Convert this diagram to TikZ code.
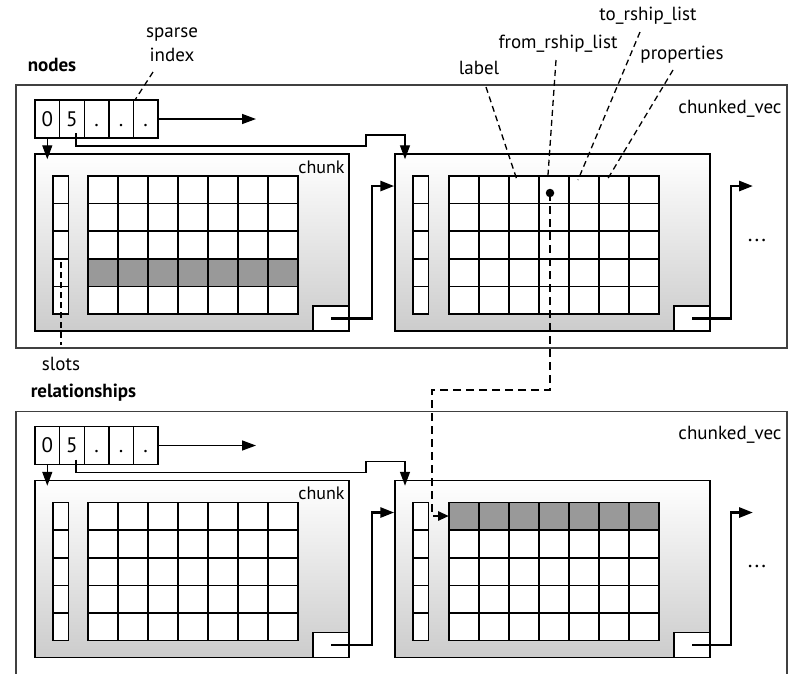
\documentclass[tikz,border=0pt]{standalone}
\usepackage{fontspec}
\setmainfont{PT Sans}
\usetikzlibrary{arrows.meta,calc}
\tikzset{
  lbl/.style={font=\fontsize{19}{22}\selectfont, inner sep=0pt, anchor=base},
  smalllbl/.style={font=\fontsize{18}{21}\selectfont, inner sep=0pt, anchor=base},
  ttl/.style={font=\bfseries\fontsize{19}{22}\selectfont, inner sep=0pt, anchor=base},
  panelbox/.style={draw=black!75, line width=1.4pt},
  chunkbox/.style={draw=black, line width=1.5pt, top color=white, bottom color=black!20,
    minimum width=314pt, minimum height=177pt, inner sep=0pt},
  cellbox/.style={draw=black, line width=1.6pt, fill=white},
  hicell/.style={draw=black, line width=1.6pt, fill=black!40},
  idxcell/.style={draw=black, line width=1.4pt, fill=white, minimum width=24.6pt,
    minimum height=38pt, inner sep=0pt, text height=14pt, text depth=0pt,
    font=\fontsize{21}{24}\selectfont},
  smallbox/.style={draw=black, line width=1.5pt, fill=white, minimum width=36pt,
    minimum height=25pt, inner sep=0pt},
  link/.style={line width=1.4pt, -{Triangle[length=14pt,width=10pt]}},
  thicklink/.style={line width=2.8pt, -{Triangle[length=14pt,width=10pt]}},
  leader/.style={line width=1.3pt, dash pattern=on 6pt off 4pt},
  ptr/.style={line width=2.8pt, dash pattern=on 8pt off 5pt, -{Triangle[length=11pt,width=9pt]}},
  dotnode/.style={circle, fill=black, inner sep=0pt, minimum size=8.5pt},
}
\newcommand\drawchunkgrid[4]{%
  \foreach \r in {0,...,4}{%
    \draw[cellbox] (#1,{#3+27.6*\r}) rectangle ++(15.5,27.6);
    \foreach \c in {0,...,6}{%
      \ifnum\r=#4\relax\def\cst{hicell}\else\def\cst{cellbox}\fi
      \draw[\cst] ({#2+30*\c},{#3+27.6*\r}) rectangle ++(30,27.6);
    }%
  }%
}
\newcommand\drawpanel[4]{%
\begin{scope}[yshift=-#2pt]
  \draw[panelbox] (16,85) rectangle (787,348);
  \node[lbl] (#1cv) at (730,113) {chunked\_vec};
  \foreach \k/\t in {0/0,1/5,2/.,3/.,4/.}
    \node[idxcell] (#1i\k) at ({47.3+24.6*\k},119) {\t};
  \coordinate (#1iend) at (256,119);
  \draw[link] (#1i4.east) -- (#1iend);
  \node[chunkbox] (#1cA) at (192,242.5) {};
  \node[chunkbox, minimum width=315pt] (#1cB) at (552.5,242.5) {};
  \node[smalllbl] (#1chl) at (321.5,173) {chunk};
  \drawchunkgrid{53}{88}{176}{#3}
  \drawchunkgrid{413}{449}{176}{#4}
  \node[smallbox] (#1sA) at (331,318.5) {};
  \node[smallbox] (#1sB) at (692,318.5) {};
  % index pointers
  \draw[link, shorten >=-6pt] (#1i0.south) -- (#1i0.south |- #1cA.north);
  \coordinate (#1f5) at (76,133);
  \coordinate (#1b1) at (366,146);
  \coordinate (#1b2) at (405,135);
  \draw[link, shorten >=-6pt] (#1f5) |- (#1b1) |- (#1b2) -- (#1b2 |- #1cB.north);
  % chunk chain
  \coordinate (#1jA) at (372,186);
  \draw[thicklink] (#1sA.center) -| (#1jA) -- (#1jA -| #1cB.west);
  \coordinate (#1jB) at (731,186);
  \coordinate (#1jBend) at (753,186);
  \draw[thicklink] (#1sB.center) -| (#1jB) -- (#1jBend);
  \node[lbl, font=\fontsize{22}{24}\selectfont] (#1more) at (757,241) {.\kern2pt.\kern2pt.};
\end{scope}}

\begin{document}
\begin{tikzpicture}[x=1pt,y=-1pt]
\clip (0,0) rectangle (792,673);
\fill[white] (0,0) rectangle (792,673);

\drawpanel{n}{0}{3}{-1}
\drawpanel{r}{326.5}{-1}{0}

% titles
\node[ttl] (tnodes) at (52,71) {nodes};
\node[ttl] (trel) at (83.5,397) {relationships};

% sparse index label
\node[lbl] (tsparse) at (172,37) {sparse};
\node[lbl] (tindex) at (172,61) {index};
\coordinate (sparseA) at (153,72);
\coordinate (sparseB) at (135,100);
\draw[leader] (sparseA) -- (sparseB);

% slots label
\node[lbl] (tslots) at (61,370) {slots};
\coordinate (slotsA) at (61,262);
\coordinate (slotsB) at (61,345);
\draw[leader] (slotsA) -- (slotsB);

% field labels
\node[lbl] (tlabel) at (479,74) {label};
\node[lbl] (tfrom) at (558,48) {from\_rship\_list};
\node[lbl] (tto) at (648,20) {to\_rship\_list};
\node[lbl] (tprop) at (682,59) {properties};
\coordinate (labelA) at (486,87);
\coordinate (labelB) at (517,180);
\coordinate (fromA) at (556,60);
\coordinate (fromB) at (548,175);
\coordinate (toA) at (640,32);
\coordinate (toB) at (578,180);
\coordinate (propA) at (673,70);
\coordinate (propB) at (607,180);
\draw[leader] (labelA) -- (labelB);
\draw[leader] (fromA) -- (fromB);
\draw[leader] (toA) -- (toB);
\draw[leader] (propA) -- (propB);

% pointer from node record to relationship record
\node[dotnode] (dot) at (550,193) {};
\coordinate (pbend) at (550,390);
\coordinate (pdown) at (432,516);
\coordinate (ptarget) at (449,516);
\draw[ptr] (dot.center) -- (pbend) -| (pdown) -- (ptarget);
\end{tikzpicture}
\end{document}
